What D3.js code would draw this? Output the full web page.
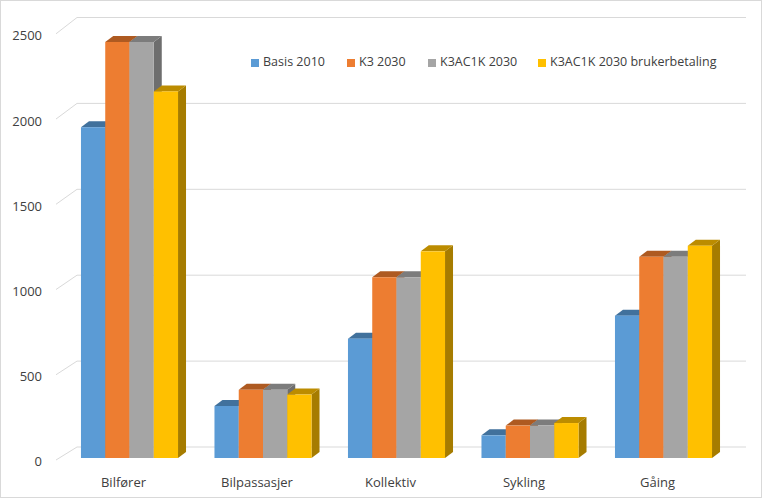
<!DOCTYPE html>
<html>
  <head>
    <meta charset="UTF-8">
    <title>Reisemiddelfordeling</title>
    <script src="https://cdn.jsdelivr.net/npm/d3@7"></script>
    <style>
      body { margin: 0; background: #fff; }
      text { font-family: "Open Sans", "Liberation Sans", sans-serif; fill: #404040; }
      .legend text { font-size: 12.5px; }
      .tick-label { font-size: 13px; }
    </style>
  </head>
  <body>
    <div id="chart"></div>
    <script>
      const categories = ["Bilfører", "Bilpassasjer", "Kollektiv", "Sykling", "Gåing"];
      const seriesNames = ["Basis 2010", "K3 2030", "K3AC1K 2030", "K3AC1K 2030 brukerbetaling"];
      const basis2010 = [1940, 305, 700, 133, 835];
      const k3_2030 = [2440, 400, 1060, 190, 1180];
      const k3ac1k_2030 = [2440, 400, 1060, 190, 1180];
      const k3ac1kBruker = [2150, 372, 1212, 205, 1245];
      const yTicks = [0, 500, 1000, 1500, 2000, 2500];

      const seriesValues = [basis2010, k3_2030, k3ac1k_2030, k3ac1kBruker];
      const fronts = ["#5b9bd5", "#ed7d31", "#a5a5a5", "#ffc000"];
      const tops = ["#41719c", "#ae5a21", "#7c7c7c", "#bc8c00"];
      const sides = ["#3d6a94", "#a0521d", "#6e6e6e", "#a67c00"];

      const width = 763, height = 499;
      const depthX = 8, depthY = -6;

      const svg = d3.select("#chart").append("svg")
        .attr("width", width)
        .attr("height", height);

      svg.append("rect")
        .attr("x", 0.5).attr("y", 0.5)
        .attr("width", width - 2).attr("height", height - 2)
        .attr("fill", "#fff")
        .attr("stroke", "#d9d9d9");

      // front face of bars, back wall for gridlines, left edge for labels
      const y = d3.scaleLinear().domain([0, 2500]).range([458, 458 - 2500 * 0.1705]);
      const yBack = d3.scaleLinear().domain([0, 2500]).range([447, 17.5]);
      const yEdge = d3.scaleLinear().domain([0, 2500]).range([460, 33.8]);

      const x0 = d3.scaleBand().domain(categories).range([62.75, 730.25]).paddingInner(0.273).paddingOuter(0.1365);
      const x1 = d3.scaleBand().domain(d3.range(seriesNames.length)).range([0, x0.bandwidth()]);

      // gridlines
      const grid = svg.append("g").attr("stroke", "#d9d9d9").attr("stroke-width", 1);
      grid.selectAll(".back").data(yTicks).join("line")
        .attr("x1", 77).attr("x2", 746)
        .attr("y1", d => yBack(d)).attr("y2", d => yBack(d));
      grid.selectAll(".edge").data(yTicks).join("line")
        .attr("x1", 56).attr("x2", 77)
        .attr("y1", d => yEdge(d)).attr("y2", d => yBack(d));

      svg.append("g").selectAll("text").data(yTicks).join("text")
        .attr("class", "tick-label")
        .attr("x", 42)
        .attr("y", d => yEdge(d) + 3)
        .attr("text-anchor", "end")
        .attr("dominant-baseline", "middle")
        .text(d => d);

      // bars
      const groups = svg.append("g").selectAll("g").data(categories).join("g")
        .attr("transform", d => `translate(${x0(d)},0)`);

      groups.each(function(cat, ci) {
        const g = d3.select(this);
        seriesValues.forEach((vals, si) => {
          const bx = x1(si), bw = x1.bandwidth();
          const top = y(vals[ci]), base = y(0);
          g.append("path")
            .attr("fill", sides[si])
            .attr("d", `M${bx + bw},${top} L${bx + bw + depthX},${top + depthY} L${bx + bw + depthX},${base + depthY} L${bx + bw},${base} Z`);
          g.append("path")
            .attr("fill", tops[si])
            .attr("d", `M${bx},${top} L${bx + depthX},${top + depthY} L${bx + bw + depthX},${top + depthY} L${bx + bw},${top} Z`);
          g.append("rect")
            .attr("fill", fronts[si])
            .attr("x", bx).attr("y", top)
            .attr("width", bw).attr("height", base - top);
        });
      });

      svg.append("g").selectAll("text").data(categories).join("text")
        .attr("class", "tick-label")
        .attr("x", d => x0(d) + x0.bandwidth() / 2 - 6)
        .attr("y", 484)
        .attr("text-anchor", "middle")
        .attr("dominant-baseline", "middle")
        .text(d => d);

      // legend
      const legendX = [251, 347, 428, 538];
      const legend = svg.append("g").attr("class", "legend")
        .selectAll("g").data(seriesNames).join("g")
        .attr("transform", (d, i) => `translate(${legendX[i]},63)`);
      legend.append("rect")
        .attr("x", 0).attr("y", -4)
        .attr("width", 8).attr("height", 8)
        .attr("fill", (d, i) => fronts[i]);
      legend.append("text")
        .attr("x", 12).attr("y", 0)
        .attr("dominant-baseline", "middle")
        .text(d => d);
    </script>
  </body>
</html>
